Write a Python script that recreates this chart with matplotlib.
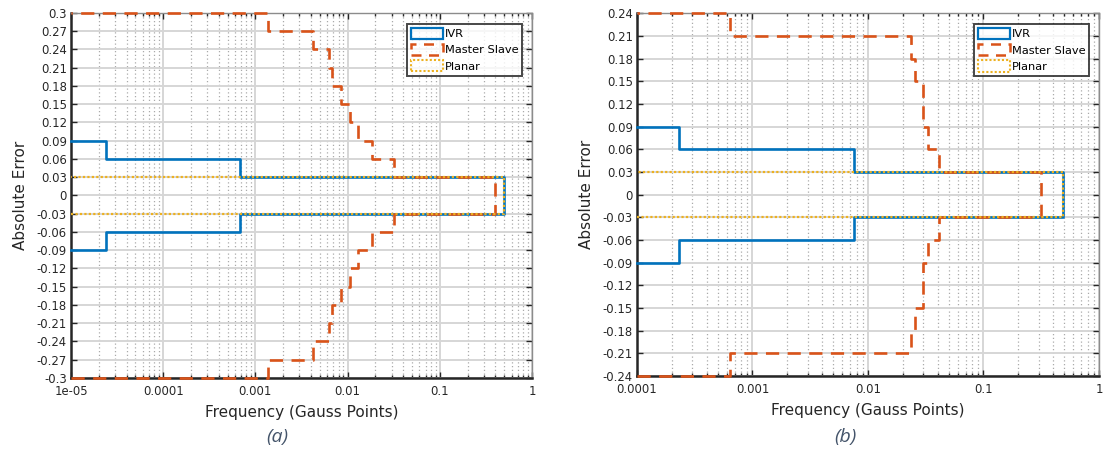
import numpy as np
import matplotlib.pyplot as plt
from matplotlib.patches import Patch
from matplotlib.ticker import FixedLocator, LogLocator, NullFormatter

# error bins (Absolute Error) and frequencies
edges_a = np.round(np.arange(-0.30, 0.3001, 0.03), 2)
ivr_a = [0, 0, 0, 0, 0, 0, 0, 2.4e-5, 6.8e-4, 0.495,
         0.495, 6.8e-4, 2.4e-5, 0, 0, 0, 0, 0, 0, 0]
master_a = [1.37e-3, 4.2e-3, 6.3e-3, 6.8e-3, 8.4e-3, 1.06e-2, 1.31e-2, 1.82e-2, 3.2e-2, 0.397,
            0.397, 3.2e-2, 1.82e-2, 1.31e-2, 1.06e-2, 8.4e-3, 6.8e-3, 6.3e-3, 4.2e-3, 1.37e-3]
planar_a = [0, 0, 0, 0, 0, 0, 0, 0, 0, 0.495,
            0.495, 0, 0, 0, 0, 0, 0, 0, 0, 0]

edges_b = np.round(np.arange(-0.24, 0.2401, 0.03), 2)
ivr_b = [0, 0, 0, 0, 0, 2.33e-4, 7.5e-3, 0.492,
         0.492, 7.5e-3, 2.33e-4, 0, 0, 0, 0, 0]
master_b = [6.4e-4, 0.0237, 0.0255, 0.0299, 0.0299, 0.0334, 0.0408, 0.317,
            0.317, 0.0408, 0.0334, 0.0299, 0.0299, 0.0255, 0.0237, 6.4e-4]
planar_b = [0, 0, 0, 0, 0, 0, 0, 0.492,
            0.492, 0, 0, 0, 0, 0, 0, 0]

xticks_a = [1e-5, 1e-4, 1e-3, 1e-2, 1e-1, 1]
xlabels_a = ['1e-05', '0.0001', '0.001', '0.01', '0.1', '1']
xticks_b = [1e-4, 1e-3, 1e-2, 1e-1, 1]
xlabels_b = ['0.0001', '0.001', '0.01', '0.1', '1']

BLUE = '#0072BD'
ORANGE = '#D95319'
YELLOW = '#EDB120'
DARK = '#262626'

plt.rcParams['font.family'] = ['DejaVu Sans']


def stairs_path(edges, values, base):
    """Horizontal histogram outline (MATLAB 'stairs' style) for non-empty bins."""
    values = np.asarray(values, dtype=float)
    nz = np.nonzero(values)[0]
    i0, i1 = nz[0], nz[-1]
    xs, ys = [base], [edges[i0]]
    for i in range(i0, i1 + 1):
        xs += [values[i], values[i]]
        ys += [edges[i], edges[i + 1]]
    xs.append(base)
    ys.append(edges[i1 + 1])
    return xs, ys


def draw_panel(ax, edges, ivr, master, planar, xticks, xlabels):
    lo = xticks[0]
    x, y = stairs_path(edges, ivr, lo)
    ax.plot(x, y, color=BLUE, lw=1.9, clip_on=False, zorder=3)
    x, y = stairs_path(edges, master, lo)
    ax.plot(x, y, color=ORANGE, lw=1.9, ls=(0, (5, 3.2)), clip_on=False, zorder=4)
    x, y = stairs_path(edges, planar, lo)
    ax.plot(x, y, color=YELLOW, lw=1.6, ls=(0, (1, 1)), clip_on=False, zorder=5)

    ax.set_xscale('log')
    ax.set_xlim(xticks[0], xticks[-1])
    ax.set_ylim(edges[0], edges[-1])
    ax.xaxis.set_major_locator(FixedLocator(xticks))
    ax.set_xticklabels(xlabels)
    ax.xaxis.set_minor_locator(LogLocator(base=10, subs=np.arange(2, 10), numticks=20))
    ax.xaxis.set_minor_formatter(NullFormatter())
    ax.set_yticks(edges)
    ax.set_yticklabels([f'{v + 0.0:g}' for v in np.round(edges, 2)])

    ax.grid(True, which='major', color='#d6d6d6', lw=1.4, ls='-', zorder=0)
    ax.grid(True, which='minor', axis='x', color='#aaaaaa', lw=0.9, ls=(0, (1, 2)), zorder=0)
    ax.set_axisbelow(True)

    ax.tick_params(which='both', direction='in', top=True, right=True,
                   color=DARK, labelcolor=DARK, labelsize=8.4)
    ax.tick_params(which='major', length=4, width=1)
    ax.tick_params(which='minor', length=2.5, width=1)
    ax.tick_params(axis='y', pad=3)
    ax.tick_params(axis='x', pad=5)
    for side in ['left', 'bottom']:
        ax.spines[side].set_color(DARK)
        ax.spines[side].set_linewidth(1.8)
    for side in ['top', 'right']:
        ax.spines[side].set_color('#8c8c8c')
        ax.spines[side].set_linewidth(1.0)

    ax.set_xlabel('Frequency (Gauss Points)', fontsize=11, color=DARK, labelpad=5)
    ax.set_ylabel('Absolute Error', fontsize=11, color=DARK)
    ax.yaxis.set_label_coords(-0.094, 0.5)

    handles = [Patch(facecolor='none', edgecolor=BLUE, lw=1.6, label='IVR'),
               Patch(facecolor='none', edgecolor=ORANGE, lw=1.8, ls=(0, (4, 3)), label='Master Slave'),
               Patch(facecolor='none', edgecolor=YELLOW, lw=1.5, ls=(0, (1, 1)), label='Planar')]
    leg = ax.legend(handles=handles, loc='upper right', bbox_to_anchor=(0.979, 0.971),
                    fontsize=8.2, frameon=True, fancybox=False, handlelength=2.8,
                    handleheight=1.15, handletextpad=0.15, labelspacing=0.42,
                    borderpad=0.35, borderaxespad=0.0)
    leg.get_frame().set_edgecolor('#1a1a1a')
    leg.get_frame().set_linewidth(1.4)
    leg.set_zorder(10)


fig = plt.figure(figsize=(11.13, 4.57), dpi=100)
ax_a = fig.add_axes([0.0638, 0.1729, 0.4142, 0.7987])
ax_b = fig.add_axes([0.5723, 0.1772, 0.4151, 0.7937])

draw_panel(ax_a, edges_a, ivr_a, master_a, planar_a, xticks_a, xlabels_a)
draw_panel(ax_b, edges_b, ivr_b, master_b, planar_b, xticks_b, xlabels_b)

cap_kw = dict(fontsize=14, style='italic', color='#44546A', ha='center', va='center',
              family=['Open Sans', 'DejaVu Sans'])
fig.text(277 / 1113, 1 - 437 / 457, '(a)', **cap_kw)
fig.text(845 / 1113, 1 - 437 / 457, '(b)', **cap_kw)

fig.savefig('out.png', dpi=100)
